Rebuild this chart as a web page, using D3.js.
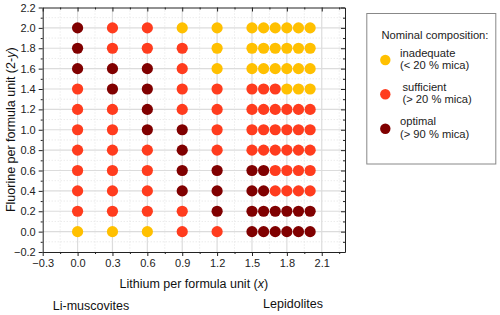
<!DOCTYPE html>
<html><head><meta charset="utf-8">
<script src="https://cdn.jsdelivr.net/npm/d3@7"></script>
<style>body{margin:0;background:#fff}svg{display:block;font-family:Arial,"Liberation Sans",sans-serif}</style>
</head><body><svg id="c" width="500" height="315"></svg>
<script>
const xValues = [0.0, 0.3, 0.6, 0.9, 1.2, 1.5, 1.6, 1.7, 1.8, 1.9, 2.0];
const yValues = [2.0, 1.8, 1.6, 1.4, 1.2, 1.0, 0.8, 0.6, 0.4, 0.2, 0.0];
// I = inadequate, S = sufficient, O = optimal ; rows follow yValues, columns follow xValues
const compositionRows = [
  "OSSIIIIIIII",
  "OSSSIIIIIII",
  "OOOSIIIIIII",
  "SOOSSSSSIII",
  "SSOSSSSSSSS",
  "SSOOSSSSSSS",
  "SSSOSSSSSSS",
  "SSSOOOOSSSS",
  "SSSOOOOSSSS",
  "SSSSOOOOOOO",
  "IIISSOOOOOO"
];
const categories = ["inadequate", "sufficient", "optimal"];
const categoryCodes = ["I", "S", "O"];
const categoryNotes = ["(< 20 % mica)", "(> 20 % mica)", "(> 90 % mica)"];
const categoryColors = ["#FFC000", "#FF3C1E", "#800000"];
const xTicks = [-0.3, 0.0, 0.3, 0.6, 0.9, 1.2, 1.5, 1.8, 2.1];
const yTicks = [-0.2, 0.0, 0.2, 0.4, 0.6, 0.8, 1.0, 1.2, 1.4, 1.6, 1.8, 2.0, 2.2];

const points = [];
compositionRows.forEach((row, i) => {
  row.split("").forEach((c, j) => {
    points.push({x: xValues[j], y: yValues[i], cat: categoryCodes.indexOf(c)});
  });
});

const svg = d3.select("#c");
const L = 42.7, R = 345, T = 7.5, B = 252;
const x = d3.scaleLinear().domain([-0.3, 2.3]).range([L, R]);
const y = d3.scaleLinear().domain([-0.2, 2.2]).range([B, T]);
const color = d3.scaleOrdinal().domain(d3.range(3)).range(categoryColors);

const xMinor = d3.range(-0.3, 2.3001, 0.15).map(v => +v.toFixed(2));
const yMinor = d3.range(-0.2, 2.2001, 0.1).map(v => +v.toFixed(2));
const isMajor = (v, arr) => arr.some(t => Math.abs(t - v) < 1e-6);

const grid = svg.append("g");
// minor dotted gridlines
grid.selectAll(".vx").data(xMinor.filter(v => !isMajor(v, xTicks))).join("line")
  .attr("x1", d => x(d)).attr("x2", d => x(d)).attr("y1", T).attr("y2", B)
  .attr("stroke", "#e2e2e2").attr("stroke-width", 1).attr("stroke-dasharray", "1,2");
grid.selectAll(".hy").data(yMinor.filter(v => !isMajor(v, yTicks))).join("line")
  .attr("y1", d => y(d)).attr("y2", d => y(d)).attr("x1", L).attr("x2", R)
  .attr("stroke", "#e2e2e2").attr("stroke-width", 1).attr("stroke-dasharray", "1,2");
// major gridlines
grid.selectAll(".mx").data(xTicks.slice(1)).join("line")
  .attr("x1", d => x(d)).attr("x2", d => x(d)).attr("y1", T).attr("y2", B)
  .attr("stroke", "#dcdcdc").attr("stroke-width", 1.2);
grid.selectAll(".my").data(yTicks.slice(1, -1)).join("line")
  .attr("y1", d => y(d)).attr("y2", d => y(d)).attr("x1", L).attr("x2", R)
  .attr("stroke", "#dcdcdc").attr("stroke-width", 1.2);

// axes
const fmt = d3.format(".1f");
const fmtMinus = v => fmt(v).replace("-", "\u2212");
function styleAxis(g) {
  g.selectAll("text").attr("fill", "#222").style("font-size", "11px");
  g.selectAll("line,path").attr("stroke", "#222");
}
const xAxis = svg.append("g").attr("transform", `translate(0,${B})`)
  .call(d3.axisBottom(x).tickValues(xTicks).tickFormat(fmtMinus).tickSize(4).tickSizeOuter(0).tickPadding(3));
styleAxis(xAxis);
svg.append("g").attr("transform", `translate(0,${B})`)
  .call(d3.axisBottom(x).tickValues(xMinor.filter(v => !isMajor(v, xTicks))).tickFormat("").tickSize(2).tickSizeOuter(0))
  .call(g => g.select(".domain").remove()).selectAll("line").attr("stroke", "#222");
const yAxis = svg.append("g").attr("transform", `translate(${L},0)`)
  .call(d3.axisLeft(y).tickValues(yTicks).tickFormat(fmtMinus).tickSize(4).tickSizeOuter(0).tickPadding(3));
styleAxis(yAxis);
svg.append("g").attr("transform", `translate(${L},0)`)
  .call(d3.axisLeft(y).tickValues(yMinor.filter(v => !isMajor(v, yTicks))).tickFormat("").tickSize(2).tickSizeOuter(0))
  .call(g => g.select(".domain").remove()).selectAll("line").attr("stroke", "#222");
// top & right mirrored axes with inward ticks
svg.append("g").attr("transform", `translate(0,${T})`)
  .call(d3.axisBottom(x).tickValues(xTicks).tickFormat("").tickSize(4).tickSizeOuter(0))
  .selectAll("line,path").attr("stroke", "#222");
svg.append("g").attr("transform", `translate(0,${T})`)
  .call(d3.axisBottom(x).tickValues(xMinor.filter(v => !isMajor(v, xTicks))).tickFormat("").tickSize(2).tickSizeOuter(0))
  .call(g => g.select(".domain").remove()).selectAll("line").attr("stroke", "#222");
svg.append("g").attr("transform", `translate(${R},0)`)
  .call(d3.axisLeft(y).tickValues(yTicks).tickFormat("").tickSize(4).tickSizeOuter(0))
  .selectAll("line,path").attr("stroke", "#222");
svg.append("g").attr("transform", `translate(${R},0)`)
  .call(d3.axisLeft(y).tickValues(yMinor.filter(v => !isMajor(v, yTicks))).tickFormat("").tickSize(2).tickSizeOuter(0))
  .call(g => g.select(".domain").remove()).selectAll("line").attr("stroke", "#222");

// points
svg.append("g").selectAll("circle").data(points).join("circle")
  .attr("cx", d => x(d.x)).attr("cy", d => y(d.y)).attr("r", 5.6)
  .attr("fill", d => color(d.cat));

// axis titles
const xt = svg.append("text").attr("x", (L + R) / 2).attr("y", 287.5).attr("text-anchor", "middle")
  .style("font-size", "12.5px").attr("fill", "#111");
xt.append("tspan").text("Lithium per formula unit (");
xt.append("tspan").attr("font-style", "italic").text("x");
xt.append("tspan").text(")");
const yt = svg.append("text").attr("transform", `translate(15,${(T + B) / 2}) rotate(-90)`)
  .attr("text-anchor", "middle").style("font-size", "12.5px").attr("fill", "#111");
yt.append("tspan").text("Fluorine per formula unit (2-");
yt.append("tspan").attr("font-style", "italic").text("y");
yt.append("tspan").text(")");

svg.append("text").attr("x", 91).attr("y", 309.5).attr("text-anchor", "middle")
  .style("font-size", "12.5px").attr("fill", "#111").text("Li-muscovites");
svg.append("text").attr("x", 293).attr("y", 307.5).attr("text-anchor", "middle")
  .style("font-size", "12.5px").attr("fill", "#111").text("Lepidolites");

// legend
const lg = svg.append("g");
lg.append("rect").attr("x", 366.8).attr("y", 13.5).attr("width", 129).attr("height", 150.5)
  .attr("fill", "#fff").attr("stroke", "#888").attr("stroke-width", 1);
lg.append("text").attr("x", 381.5).attr("y", 39).style("font-size", "11.2px").attr("fill", "#222")
  .text("Nominal composition:");
const legendY = [60, 94.3, 128.7];
const legendTextX = [400, 402.5, 400];
categories.forEach((c, i) => {
  lg.append("circle").attr("cx", 385.3).attr("cy", legendY[i]).attr("r", 5.2).attr("fill", categoryColors[i]);
  lg.append("text").attr("x", legendTextX[i]).attr("y", legendY[i] - 3.5).style("font-size", "11.2px")
    .attr("fill", "#222").text(c);
  lg.append("text").attr("x", legendTextX[i]).attr("y", legendY[i] + 9).style("font-size", "11.2px")
    .attr("fill", "#222").text(categoryNotes[i]);
});
</script></body></html>
